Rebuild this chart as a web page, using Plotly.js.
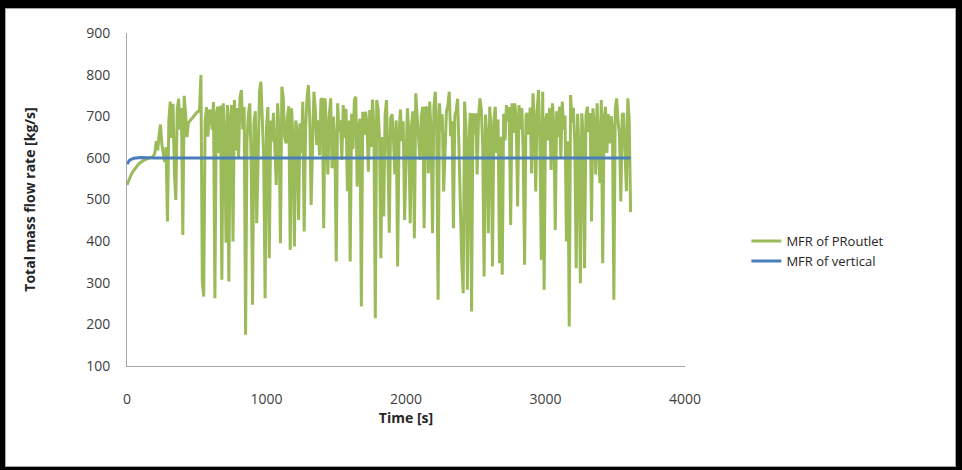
<!DOCTYPE html>
<html>
<head>
<meta charset="utf-8">
<script src="https://cdn.plot.ly/plotly-3.0.1.min.js"></script>
<style>
html,body{margin:0;padding:0;background:#000;}
#frame{position:absolute;left:0;top:0;width:962px;height:470px;background:#000;}
#chart{position:absolute;left:5px;top:8px;width:951px;height:459px;border:1px solid #a6a6a6;box-sizing:border-box;background:#fff;}
</style>
</head>
<body>
<div id="frame"><div id="chart"></div></div>
<script>
const prTime = [
0,10,20,30,40,50,60,70,80,90,
100,110,120,130,140,150,160,170,180,190,
200,210,220,230,240,250,260,270,280,290,
300,310,320,330,340,350,360,370,380,390,
400,410,420,430,440,450,460,470,480,490,
500,510,520,530,540,550,560,570,580,590,
600,610,620,630,640,650,660,670,680,690,
700,710,720,730,740,750,760,770,780,790,
800,810,820,830,840,850,860,870,880,890,
900,910,920,930,940,950,960,970,980,990,
1000,1010,1020,1030,1040,1050,1060,1070,1080,1090,
1100,1110,1120,1130,1140,1150,1160,1170,1180,1190,
1200,1210,1220,1230,1240,1250,1260,1270,1280,1290,
1300,1310,1320,1330,1340,1350,1360,1370,1380,1390,
1400,1410,1420,1430,1440,1450,1460,1470,1480,1490,
1500,1510,1520,1530,1540,1550,1560,1570,1580,1590,
1600,1610,1620,1630,1640,1650,1660,1670,1680,1690,
1700,1710,1720,1730,1740,1750,1760,1770,1780,1790,
1800,1810,1820,1830,1840,1850,1860,1870,1880,1890,
1900,1910,1920,1930,1940,1950,1960,1970,1980,1990,
2000,2010,2020,2030,2040,2050,2060,2070,2080,2090,
2100,2110,2120,2130,2140,2150,2160,2170,2180,2190,
2200,2210,2220,2230,2240,2250,2260,2270,2280,2290,
2300,2310,2320,2330,2340,2350,2360,2370,2380,2390,
2400,2410,2420,2430,2440,2450,2460,2470,2480,2490,
2500,2510,2520,2530,2540,2550,2560,2570,2580,2590,
2600,2610,2620,2630,2640,2650,2660,2670,2680,2690,
2700,2710,2720,2730,2740,2750,2760,2770,2780,2790,
2800,2810,2820,2830,2840,2850,2860,2870,2880,2890,
2900,2910,2920,2930,2940,2950,2960,2970,2980,2990,
3000,3010,3020,3030,3040,3050,3060,3070,3080,3090,
3100,3110,3120,3130,3140,3150,3160,3170,3180,3190,
3200,3210,3220,3230,3240,3250,3260,3270,3280,3290,
3300,3310,3320,3330,3340,3350,3360,3370,3380,3390,
3400,3410,3420,3430,3440,3450,3460,3470,3480,3490,
3500,3510,3520,3530,3540,3550,3560,3570,3580,3590,
3600,3610];
const prFlow = [
535,545,553,560,566,571,576,580,584,587,
590,592,594,596,597,598,599,600,602,605,
612,640,618,655,680,632,605,590,626,447,
690,735,648,730,560,499,715,742,668,720,
415,749,705,650,684,688,693,698,702,706,
709,711,716,799,300,267,688,722,651,712,
715,668,734,263,705,723,612,725,307,731,
655,396,727,303,692,727,399,739,618,720,
600,745,763,668,722,175,640,705,731,596,
247,683,712,443,641,760,783,672,600,263,
675,722,359,690,639,708,617,535,731,662,
395,771,746,650,635,698,724,379,719,642,
387,690,660,451,683,612,735,423,668,742,
775,698,487,646,759,717,631,690,606,740,
743,431,743,668,560,702,743,575,699,642,
351,731,662,690,595,727,648,718,520,690,
351,706,621,740,747,531,672,694,243,711,
655,711,684,567,715,626,740,668,215,739,
718,648,359,650,459,702,739,611,420,695,
705,648,560,690,339,651,716,640,688,451,
627,719,664,443,680,712,407,755,701,642,
595,700,723,431,723,719,563,735,658,419,
722,759,676,259,731,664,705,519,650,712,
724,759,652,688,431,700,715,742,620,451,
347,275,735,672,283,620,708,231,707,655,
707,560,697,743,716,628,315,704,650,419,
723,664,339,690,723,612,692,347,651,319,
706,642,727,688,722,439,731,660,731,694,
483,727,668,720,614,343,703,707,656,721,
563,755,689,519,712,763,638,355,759,283,
688,707,642,720,571,731,676,427,712,650,
723,600,735,668,702,399,640,195,751,684,
720,634,335,706,620,299,707,655,335,702,
723,662,708,447,719,681,560,731,652,539,
739,347,694,723,612,705,635,700,672,259,
716,743,688,657,495,704,707,615,520,743,
692,470];
const vTime = [0,20,50,100,200,3610];
const vFlow = [585,595,599,601,600,600];
const seriesNames = ["MFR of PRoutlet","MFR of vertical"];
const xTicks = [0,1000,2000,3000,4000];
const yTicks = [100,200,300,400,500,600,700,800,900];

const font = "'Open Sans', 'Liberation Sans', sans-serif";
const data = [
  {x: prTime, y: prFlow, type:'scatter', mode:'lines', name: seriesNames[0],
   line:{color:'#9bbb59', width:3}},
  {x: vTime, y: vFlow, type:'scatter', mode:'lines', name: seriesNames[1],
   line:{color:'#4a7ebb', width:3}}
];
const layout = {
  width: 949, height: 457,
  margin: {l:121, r:270, t:24, b:100},
  paper_bgcolor:'#fff', plot_bgcolor:'#fff',
  font:{family:font, color:'#404040', size:14},
  showlegend:true,
  legend:{x:1.11, xanchor:'left', y:0.345, yanchor:'middle', font:{size:13, color:'#262626'}, bgcolor:'rgba(0,0,0,0)'},
  xaxis:{range:[0,4000], tickvals:xTicks, ticktext:xTicks.map(String), showgrid:false, zeroline:false,
    showline:true, linecolor:'#a6a6a6', linewidth:1, ticks:'outside', ticklen:20, tickcolor:'rgba(0,0,0,0)',
    tickfont:{size:14, color:'#404040'},
    title:{text:'Time [s]', font:{size:14, color:'#262626', weight:'bold'}, standoff:3}},
  yaxis:{range:[100,900], tickvals:yTicks, ticktext:yTicks.map(String), showgrid:false, zeroline:false,
    showline:true, linecolor:'#a6a6a6', linewidth:1, ticks:'outside', ticklen:13, tickcolor:'rgba(0,0,0,0)',
    tickfont:{size:14, color:'#404040'},
    title:{text:'Total mass flow rate [kg/s]', font:{size:14, color:'#262626', weight:'bold'}, standoff:47}}
};
Plotly.newPlot('chart', data, layout, {displayModeBar:false, staticPlot:true});
</script>
</body>
</html>
